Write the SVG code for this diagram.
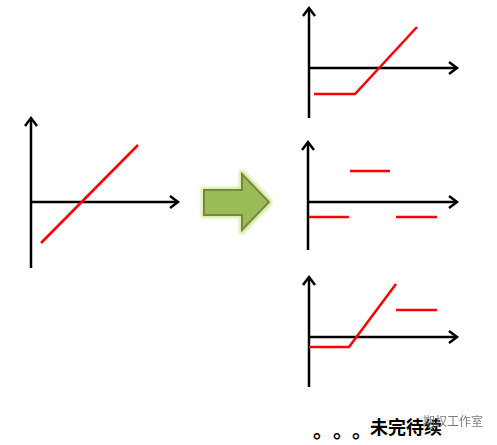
<svg xmlns="http://www.w3.org/2000/svg" width="497" height="445" viewBox="0 0 497 445">
<style>
.ax{stroke:#000;stroke-width:2.5;fill:none}
.hd{stroke:#000;stroke-width:2.5;fill:none;stroke-linejoin:miter}
.pf{stroke:#ff0000;stroke-width:2.5;fill:none;stroke-linejoin:miter}
.main{font-family:"Noto Sans CJK SC","Noto Sans",sans-serif;font-weight:bold;font-size:18px;fill:#000}
.dot{font-family:"Noto Sans CJK SC","Noto Sans",sans-serif;font-weight:bold;font-size:20px;fill:#000}
.wm{font-family:"Noto Sans CJK SC",sans-serif;font-size:12px;fill:#666;opacity:0.85}
</style>
<defs>
<filter id="glow" x="-20%" y="-20%" width="140%" height="140%">
<feFlood flood-color="#d7eaa0"/>
<feComposite operator="in" in2="SourceAlpha"/>
<feMorphology operator="dilate" radius="2"/>
<feGaussianBlur stdDeviation="1.5"/>
<feMerge><feMergeNode/><feMergeNode in="SourceGraphic"/></feMerge>
</filter>
</defs>
<g id="chart-left">
<path class="ax" d="M31 268V118M31 202H178"/>
<path class="hd" d="M25 126L31 118L37 126M170 196L178 202L170 208"/>
<path class="pf" d="M41 243L138 145"/>
</g>
<g id="arrow">
<path d="M204 190H242V174L269 202L242 230V215H204Z" fill="#9bbb59" stroke="#71893f" stroke-width="2" filter="url(#glow)"/>
</g>
<g id="chart-top">
<path class="ax" d="M309 118V8M309 68H457"/>
<path class="hd" d="M303 16L309 8L315 16M449 62L457 68L449 74"/>
<path class="pf" d="M314 94H355L417 27"/>
</g>
<g id="chart-middle">
<path class="ax" d="M308 250V142M308 202H457"/>
<path class="hd" d="M302 150L308 142L314 150M449 196L457 202L449 208"/>
<path class="pf" d="M309 217H349M350 171H390M396 217H437"/>
</g>
<g id="chart-bottom">
<path class="ax" d="M309 387V277M309 337H457"/>
<path class="hd" d="M303 285L309 277L315 285M449 331L457 337L449 343"/>
<path class="pf" d="M309 347H349L396 284M396 310H437"/>
</g>
<g id="caption">
<text class="dot" x="313 333 352" y="438">。。。</text>
<text class="main" x="370" y="434">未完待续</text>
<text class="wm" x="423" y="426">期权工作室</text>
</g>
</svg>
